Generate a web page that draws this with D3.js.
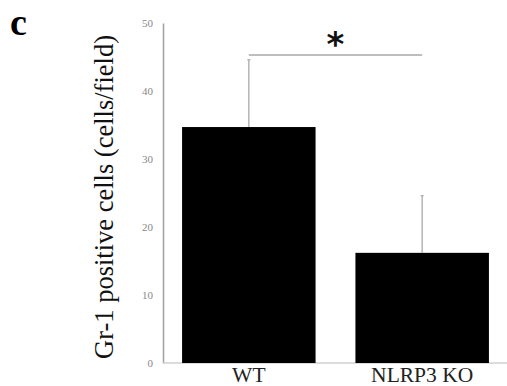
<!DOCTYPE html>
<html>
<head>
<meta charset="utf-8">
<script src="https://cdn.jsdelivr.net/npm/d3@7"></script>
<style>
  body { margin: 0; background: #fff; }
  svg { display: block; }
</style>
</head>
<body>
<div id="chart"></div>
<script>
//data
let groups = ["WT", "NLRP3 KO"];
let means = [34.7, 16.2];
let errors = [9.9, 8.4];
let yTicks = [0, 10, 20, 30, 40, 50];

let width = 507, height = 386;

let svg = d3.select("#chart")
    .append("svg")
    .attr("width", width)
    .attr("height", height);

//scales
let x = d3.scaleBand()
    .domain(groups)
    .range([163, 508])
    .paddingInner(0.23)
    .paddingOuter(0.11);

let y = d3.scaleLinear()
    .domain([0, 50])
    .range([363, 23]);

let axisColor = "#a0a0a0";
let serif = "'Liberation Serif', 'Times New Roman', serif";

//y axis
let yAxis = svg.append("g")
    .attr("transform", `translate(${x.range()[0]},0)`)
    .call(d3.axisLeft(y).tickValues(yTicks).tickSize(0).tickPadding(10));
yAxis.select(".domain").attr("stroke", axisColor).attr("stroke-width", 1.5);
yAxis.selectAll("text")
    .attr("fill", "#888")
    .style("font-family", serif)
    .style("font-size", "11px");

//baseline
svg.append("line")
    .attr("x1", x.range()[0])
    .attr("x2", width)
    .attr("y1", y(0))
    .attr("y2", y(0))
    .attr("stroke", "#d0d0d0")
    .attr("stroke-width", 1.5);

//error bars
let errs = svg.append("g").selectAll("g").data(groups).enter().append("g");
errs.append("line")
    .attr("x1", d => x(d) + x.bandwidth() / 2)
    .attr("x2", d => x(d) + x.bandwidth() / 2)
    .attr("y1", (d, i) => y(means[i]))
    .attr("y2", (d, i) => y(means[i] + errors[i]))
    .attr("stroke", "#b5b5b5")
    .attr("stroke-width", 1.5);
errs.append("line")
    .attr("x1", d => x(d) + x.bandwidth() / 2 - 1.5)
    .attr("x2", d => x(d) + x.bandwidth() / 2 + 1.5)
    .attr("y1", (d, i) => y(means[i] + errors[i]))
    .attr("y2", (d, i) => y(means[i] + errors[i]))
    .attr("stroke", "#b5b5b5")
    .attr("stroke-width", 1.5);

//bars
svg.append("g").selectAll("rect")
    .data(groups)
    .enter()
    .append("rect")
    .attr("x", d => x(d))
    .attr("y", (d, i) => y(means[i]))
    .attr("width", x.bandwidth())
    .attr("height", (d, i) => y(0) - y(means[i]))
    .attr("fill", "#000");

//x labels
svg.append("g").selectAll("text")
    .data(groups)
    .enter()
    .append("text")
    .attr("x", d => x(d) + x.bandwidth() / 2)
    .attr("y", 382)
    .attr("text-anchor", "middle")
    .attr("fill", "#222")
    .style("font-family", serif)
    .style("font-size", "21.5px")
    .text(d => d);

//significance bracket
let sigY = y(50) + 32;
svg.append("line")
    .attr("x1", x(groups[0]) + x.bandwidth() / 2)
    .attr("x2", x(groups[1]) + x.bandwidth() / 2)
    .attr("y1", sigY)
    .attr("y2", sigY)
    .attr("stroke", "#a8a8a8")
    .attr("stroke-width", 1.5);

svg.append("text")
    .attr("x", (x(groups[0]) + x(groups[1]) + x.bandwidth()) / 2)
    .attr("y", 56)
    .attr("text-anchor", "middle")
    .attr("fill", "#111")
    .style("font-family", "'DejaVu Sans', sans-serif")
    .style("font-weight", "bold")
    .style("font-size", "34px")
    .text("*");

//y label
svg.append("text")
    .attr("transform", `translate(113,197) rotate(-90)`)
    .attr("text-anchor", "middle")
    .attr("fill", "#111")
    .style("font-family", serif)
    .style("font-size", "26.5px")
    .text("Gr-1 positive cells (cells/field)");

//panel letter
svg.append("text")
    .attr("x", 10)
    .attr("y", 35)
    .attr("fill", "#000")
    .style("font-family", serif)
    .style("font-weight", "bold")
    .style("font-size", "38px")
    .text("c");
</script>
</body>
</html>
